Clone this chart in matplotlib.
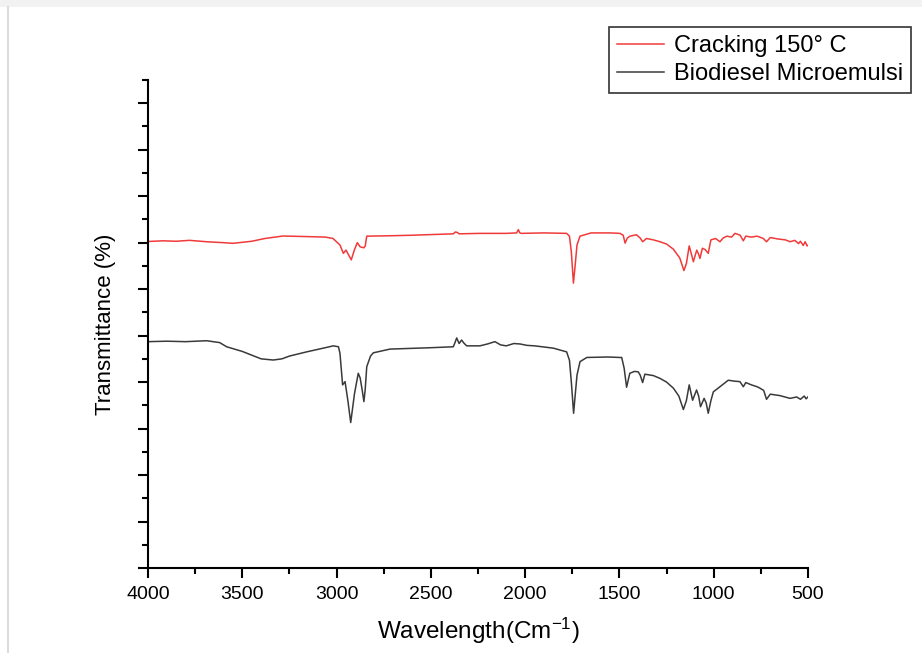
import matplotlib
matplotlib.use("Agg")
import matplotlib.pyplot as plt
from matplotlib.ticker import MultipleLocator, NullFormatter
from matplotlib.patches import Rectangle
from matplotlib.lines import Line2D

plt.rcParams['font.family'] = ['Liberation Sans', 'DejaVu Sans']
plt.rcParams['mathtext.default'] = 'regular'

# Cracking 150 °C spectrum (wavenumber, transmittance)
red_wn = [4000, 3920, 3850, 3780, 3689, 3600, 3549, 3450, 3380, 3284, 3150, 3060, 3019, 2982, 2964,
          2950, 2922, 2905, 2890, 2875, 2855, 2848, 2840, 2700, 2600, 2381, 2370, 2360, 2350, 2240,
          2100, 2045, 2036, 2028, 2020, 1900, 1780, 1765, 1755, 1744, 1735, 1725, 1709, 1650, 1550,
          1497, 1480, 1470, 1458, 1444, 1410, 1390, 1377, 1356, 1320, 1285, 1250, 1214, 1180, 1158,
          1145, 1130, 1118, 1108, 1090, 1080, 1073, 1060, 1045, 1029, 1015, 990, 967, 950, 930,
          905, 887, 860, 843, 830, 800, 770, 737, 720, 700, 660, 620, 595, 570, 550, 540, 525,
          515, 505, 498]
red_t = [70.25, 70.4, 70.3, 70.5, 70.2, 70.0, 69.86, 70.3, 70.9, 71.43, 71.3, 71.2, 70.9, 69.5, 67.7,
         68.4, 66.3, 68.5, 70.0, 69.1, 68.9, 69.3, 71.4, 71.5, 71.6, 71.9, 72.3, 72.2, 71.9, 72.0,
         72.0, 72.1, 72.8, 72.1, 72.0, 72.1, 72.0, 71.4, 68.0, 61.3, 65.0, 69.5, 71.4, 72.1, 72.1,
         72.0, 71.6, 69.9, 71.0, 71.4, 71.7, 71.0, 70.2, 70.9, 70.6, 70.2, 69.7, 68.6, 66.7, 64.0,
         65.5, 69.3, 67.5, 65.9, 68.4, 67.5, 66.6, 68.8, 68.5, 67.7, 70.6, 70.9, 70.2, 71.0, 71.4,
         71.2, 72.0, 71.6, 70.4, 71.4, 71.2, 71.4, 70.9, 70.2, 71.1, 70.8, 70.6, 70.2, 70.5, 69.8,
         70.3, 69.4, 70.2, 69.3, 69.5]

# Biodiesel Microemulsi spectrum (wavenumber, transmittance)
blk_wn = [4000, 3900, 3800, 3689, 3620, 3583, 3500, 3450, 3400, 3336, 3290, 3250, 3159, 3060, 3017,
          2990, 2982, 2968, 2955, 2940, 2925, 2905, 2885, 2875, 2865, 2855, 2848, 2840, 2820, 2805,
          2717, 2500, 2381, 2372, 2363, 2350, 2337, 2325, 2310, 2240, 2200, 2160, 2130, 2100, 2060,
          2027, 1990, 1950, 1850, 1780, 1765, 1755, 1743, 1735, 1725, 1709, 1673, 1560, 1500, 1488,
          1475, 1462, 1445, 1420, 1400, 1390, 1377, 1365, 1320, 1285, 1250, 1214, 1185, 1161, 1145,
          1130, 1112, 1091, 1080, 1070, 1051, 1040, 1029, 1015, 1002, 967, 923, 890, 861, 843,
          830, 800, 770, 755, 735, 720, 700, 650, 595, 560, 540, 520, 510, 498]
blk_t = [48.7, 48.8, 48.7, 48.9, 48.5, 47.6, 46.6, 45.8, 45.0, 44.75, 45.0, 45.6, 46.5, 47.4, 47.8,
         47.6, 46.2, 39.4, 40.1, 36.0, 31.3, 37.5, 41.9, 40.9, 38.5, 35.8, 38.5, 43.3, 45.6, 46.3,
         47.1, 47.4, 47.6, 48.5, 49.5, 48.3, 49.05, 48.4, 47.8, 47.8, 48.2, 48.7, 48.0, 47.8, 48.3,
         48.2, 47.9, 47.8, 47.3, 46.5, 44.7, 40.0, 33.3, 37.0, 41.5, 44.4, 45.3, 45.4, 45.3, 45.3,
         43.0, 38.9, 41.9, 42.3, 42.2, 41.5, 39.9, 41.7, 41.4, 40.8, 40.0, 38.7, 37.0, 34.1, 36.0,
         39.4, 36.1, 38.3, 37.0, 34.7, 36.5, 35.5, 33.3, 36.0, 37.9, 39.0, 40.4, 40.2, 40.1, 39.0,
         39.9, 39.4, 39.0, 38.7, 38.2, 36.3, 37.4, 37.1, 36.5, 36.8, 36.3, 37.0, 36.4, 36.9]

series_labels = ["Cracking 150° C", "Biodiesel Microemulsi"]

W, H = 922, 653
fig = plt.figure(figsize=(W / 100, H / 100), dpi=100)
fig.patch.set_facecolor('white')

# screenshot-like light frame
fig.add_artist(Rectangle((0, 1 - 7 / H), 1, 7 / H, transform=fig.transFigure,
                         facecolor='#f2f2f2', edgecolor='none'))
fig.add_artist(Line2D([7.5 / W, 7.5 / W], [0, 1 - 7 / H], transform=fig.transFigure,
                      color='#dcdcdc', lw=1.5))

ax = fig.add_axes([148 / W, (H - 568) / H, (808 - 148) / W, (568 - 80) / H])
ax.plot(red_wn, red_t, color='#f03a3a', lw=1.1, label=series_labels[0])
ax.plot(blk_wn, blk_t, color='#3a3a3a', lw=1.1, label=series_labels[1])

ax.set_xlim(4000, 500)
ax.set_ylim(0, 105)
ax.xaxis.set_major_locator(MultipleLocator(500))
ax.xaxis.set_minor_locator(MultipleLocator(250))
ax.yaxis.set_major_locator(MultipleLocator(10))
ax.yaxis.set_minor_locator(MultipleLocator(5))
ax.yaxis.set_major_formatter(NullFormatter())

for s in ['top', 'right']:
    ax.spines[s].set_visible(False)
for s in ['left', 'bottom']:
    ax.spines[s].set_linewidth(1.5)
ax.tick_params(which='major', direction='out', length=7, width=1.5, labelsize=14, pad=6)
ax.tick_params(which='minor', direction='out', length=4, width=1.5)
ax.tick_params(axis='x', colors='black')

ax.set_xlabel("Wavelength(Cm$^{-1}$)", fontsize=17.5, labelpad=9)
ax.set_ylabel("Transmittance (%)", fontsize=16, labelpad=10)

leg = fig.legend(loc='upper right', bbox_to_anchor=(911 / W, 1 - 27 / H), fontsize=17,
                 frameon=True, fancybox=False, edgecolor='black', handlelength=2.0,
                 handletextpad=0.4, borderpad=0.34, labelspacing=0.27, borderaxespad=0)
leg.get_frame().set_linewidth(1.2)

fig.savefig("out.png", dpi=100, facecolor='white')
